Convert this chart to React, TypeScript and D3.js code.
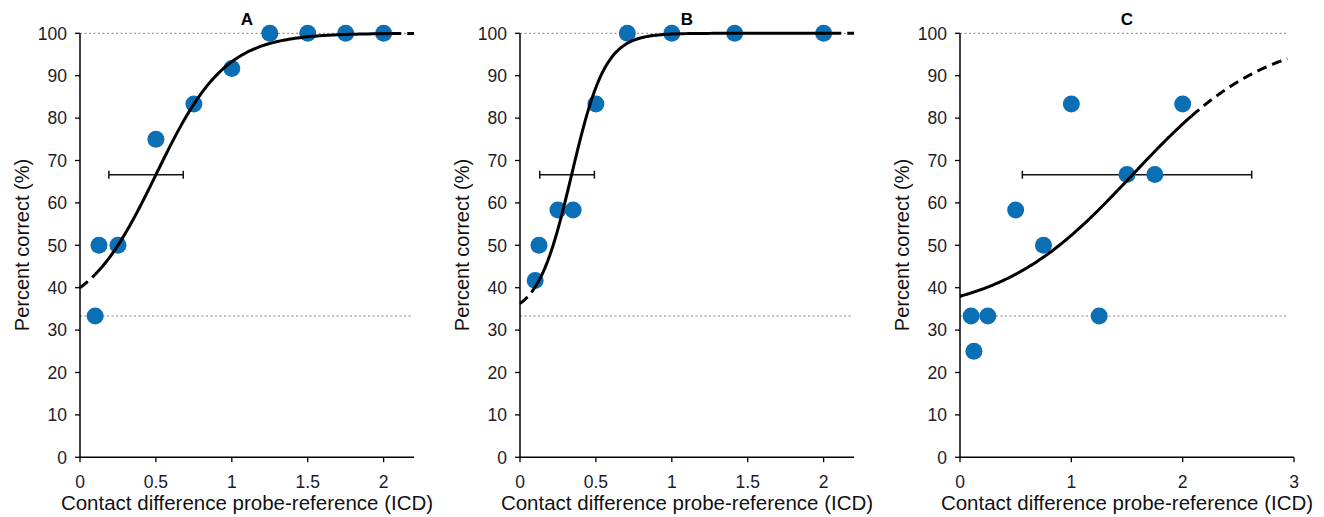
import React from 'react';
import * as d3 from 'd3';

// panel titles
const panels = ['A', 'B', 'C'];

// observed points (ICD, percent correct)
const xsA = [0.1, 0.125, 0.25, 0.5, 0.75, 1, 1.25, 1.5, 1.75, 2];
const ysA = [33.3, 50, 50, 75, 83.3, 91.7, 100, 100, 100, 100];
const xsB = [0.1, 0.125, 0.25, 0.35, 0.5, 0.707, 1, 1.414, 2];
const ysB = [41.7, 50, 58.3, 58.3, 83.3, 100, 100, 100, 100];
const xsC = [0.1, 0.125, 0.25, 0.5, 0.75, 1, 1.25, 1.5, 1.75, 2];
const ysC = [33.3, 25, 33.3, 58.3, 50, 83.3, 33.3, 66.7, 66.7, 83.3];

// fitted logistic: threshold and spread per panel
const thresholds = [0.5, 0.34, 1.55];
const spreads = [0.228, 0.111, 0.6];
// threshold error bars (low, high)
const errLow = [0.19, 0.13, 0.56];
const errHigh = [0.68, 0.49, 2.62];
// where the fitted curve is drawn solid
const solidFrom = [0.1, 0.1, 0];
const solidTo = [2.05, 2.05, 2.08];
const curveEnd = [2.2, 2.2, 2.94];

const xMax = [2.2, 2.2, 3];
const xTicks = [
  [0, 0.5, 1, 1.5, 2],
  [0, 0.5, 1, 1.5, 2],
  [0, 1, 2, 3],
];
const yTicks = d3.range(0, 101, 10);
const chance = 33.3;

const W = 1324;
const H = 517;
const panelX = [80, 520, 960];
const plotW = 334;
const top = 33.3;
const bottom = 457.3;
const dotColor = '#0a6fb5';
const font = 'Liberation Sans, Arial, sans-serif';

const Panel = ({ idx }: { idx: number }) => {
  const xs = [xsA, xsB, xsC][idx];
  const ys = [ysA, ysB, ysC][idx];
  const x = d3.scaleLinear().domain([0, xMax[idx]]).range([0, plotW]);
  const y = d3.scaleLinear().domain([0, 100]).range([bottom - top, 0]);
  const fit = (v: number) =>
    chance + (100 - chance) / (1 + Math.exp(-(v - thresholds[idx]) / spreads[idx]));
  const line = d3
    .line<number>()
    .x((v) => x(v))
    .y((v) => y(fit(v)));
  const samp = (a: number, b: number) => d3.range(a, b, (b - a) / 120).concat([b]);
  const segs = [
    { d: samp(0, solidFrom[idx]), dash: true },
    { d: samp(solidFrom[idx], solidTo[idx]), dash: false },
    { d: samp(solidTo[idx], curveEnd[idx]), dash: true },
  ].filter((s) => s.d[s.d.length - 1] - s.d[0] > 0.001);
  const ey = y(100 - (100 - chance) / 2);
  const refEnd = idx === 2 ? 2.94 : 2.19;

  return (
    <g transform={`translate(${panelX[idx]},${top})`}>
      {[100, chance].map((v) => (
        <line
          key={v}
          x1={x(0)}
          x2={x(refEnd)}
          y1={y(v)}
          y2={y(v)}
          stroke="#9a9a9a"
          strokeWidth={1.3}
          strokeDasharray="2,2.5"
        />
      ))}
      {/* axes */}
      <line x1={0} x2={0} y1={0} y2={y(0)} stroke="#000" strokeWidth={1.5} />
      <line x1={0} x2={plotW} y1={y(0)} y2={y(0)} stroke="#000" strokeWidth={1.5} />
      {yTicks.map((t) => (
        <g key={t}>
          <line x1={-5} x2={0} y1={y(t)} y2={y(t)} stroke="#000" strokeWidth={1.3} />
          <text
            x={-13}
            y={y(t)}
            dy="0.36em"
            textAnchor="end"
            fontSize={17.5}
            fontFamily={font}
            fill="#1b1b2b"
          >
            {t}
          </text>
        </g>
      ))}
      {xTicks[idx].map((t) => (
        <g key={t}>
          <line x1={x(t)} x2={x(t)} y1={y(0)} y2={y(0) + 5} stroke="#000" strokeWidth={1.3} />
          <text
            x={x(t)}
            y={y(0) + 31}
            textAnchor="middle"
            fontSize={17.5}
            fontFamily={font}
            fill="#1b1b2b"
          >
            {t}
          </text>
        </g>
      ))}
      <text
        x={plotW / 2}
        y={y(0) + 53}
        textAnchor="middle"
        fontSize={20.5}
        fontFamily={font}
        fill="#111"
      >
        Contact difference probe-reference (ICD)
      </text>
      <text
        transform={`translate(-51,${245 - top}) rotate(-90)`}
        textAnchor="middle"
        fontSize={20}
        fontFamily={font}
        fill="#111"
      >
        Percent correct (%)
      </text>
      <text
        x={plotW / 2}
        y={-8}
        textAnchor="middle"
        fontSize={17}
        fontWeight="bold"
        fontFamily={font}
        fill="#000"
      >
        {panels[idx]}
      </text>
      {/* threshold error bar */}
      <g stroke="#111" strokeWidth={1.5}>
        <line x1={x(errLow[idx])} x2={x(errHigh[idx])} y1={ey} y2={ey} />
        <line x1={x(errLow[idx])} x2={x(errLow[idx])} y1={ey - 4} y2={ey + 4} />
        <line x1={x(errHigh[idx])} x2={x(errHigh[idx])} y1={ey - 4} y2={ey + 4} />
      </g>
      {xs.map((v, i) => (
        <circle key={i} cx={x(v)} cy={y(ys[i])} r={8.5} fill={dotColor} />
      ))}
      {segs.map((s, i) => (
        <path
          key={i}
          d={line(s.d) || ''}
          fill="none"
          stroke="#000"
          strokeWidth={3}
          strokeDasharray={s.dash ? '10,6' : undefined}
        />
      ))}
    </g>
  );
};

export default function App() {
  return (
    <svg width={W} height={H} style={{ display: 'block', marginLeft: -8, marginTop: -8 }}>
      <rect width={W} height={H} fill="#fff" />
      {panels.map((p, i) => (
        <Panel key={p} idx={i} />
      ))}
    </svg>
  );
}
